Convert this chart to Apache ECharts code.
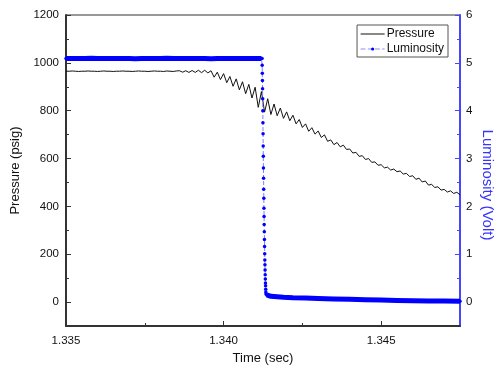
<!DOCTYPE html>
<html><head><meta charset="utf-8">
<script src="https://cdn.jsdelivr.net/npm/echarts@6/dist/echarts.min.js"></script>
<style>html,body{margin:0;padding:0;background:#fff}#c{width:496px;height:371px}</style>
</head><body><div id="c"></div>
<script>
// ---- Data ----
// Pressure sampled every 0.1 ms starting at 1.3350 s
const pressureStart = 1.335;
const pressureStep = 0.0001;
const pressure = [
 965,965,966,965,964,965,965,966,965,965,964,965,966,965,965,964,965,965,966,965,
 965,964,965,966,965,965,964,965,966,965,965,964,966,965,964,966,
 967,961,967,960,968,960,969,959,969,958,
 967,940,961,930,955,917,943,902,933,887,921,871,910,853,898,814,880,794,850,784,
 828,779,811,768,795,758,781,745,763,730,745,714,729,702,715,688,699,672,678,658,
 667,649,656,638,640,623,626,609,612,596,600,584,586,572,574,561,564,552,556,545,
 548,535,538,525,528,513,518,502,506,489,492,479,482,468,471,460,465,454,459,448
];
// Luminosity before the drop, every 0.2 ms from 1.3350 s
const lumPreStart = 1.335;
const lumPreStep = 0.0002;
const lumPre = [5.09,5.09,5.09,5.09,5.095,5.09,5.09,5.09,5.09,5.09,5.09,5.085,5.09,5.09,5.09,5.09,
                5.095,5.09,5.09,5.09,5.09,5.09,5.09,5.085,5.09,5.09,5.09,5.09,5.09,5.09,5.09,5.09];
// Luminosity drop, every 4 µs from 1.34122 s
const lumDropStart = 1.34122;
const lumDropStep = 0.000004;
const lumDrop = [5.09,4.95,4.78,4.63,4.46,4.25,4.00,3.75,3.52,3.26,3.05,2.80,2.59,2.36,2.17,1.96,
                 1.79,1.62,1.47,1.31,1.16,1.01,0.88,0.78,0.67,0.57,0.48,0.40,0.34,0.27,0.21,0.17];
// Luminosity tail after the drop
const lumPostTime = [1.34137,1.34142,1.3415,1.3417,1.3419,1.3422,1.3426,1.3430,1.3435,1.3440,
                     1.3445,1.3450,1.3455,1.3460,1.3465,1.3470,1.3475];
const lumPost = [0.15,0.13,0.12,0.11,0.10,0.09,0.085,0.075,0.065,0.057,0.05,0.042,0.035,0.03,0.025,0.02,0.015];

// Axis ticks
const xTicks = [1.335, 1.340, 1.345];
const xMinorTicks = [1.3375, 1.3425];
const pTicks = [0,200,400,600,800,1000,1200];
const pMinorTicks = [100,300,500,700,900,1100];
const lTicks = [0,1,2,3,4,5,6];
const lMinorTicks = [0.5,1.5,2.5,3.5,4.5,5.5];

// ---- Build series data ----
const pressureData = pressure.map((v,i)=>[+(pressureStart+i*pressureStep).toFixed(5), v]);
const preData = lumPre.map((v,i)=>[+(lumPreStart+i*lumPreStep).toFixed(5), v]);
const dropData = lumDrop.map((v,i)=>[+(lumDropStart+i*lumDropStep).toFixed(6), v]);
const postData = lumPost.map((v,i)=>[lumPostTime[i], v]);
const lumAll = preData.concat(dropData, postData);

const FONT = 'Liberation Sans, Arial, sans-serif';
const BLUE = '#0000ff';
const AXIS = '#333333';
const RBLUE = '#4646ff';

const chart = echarts.init(document.getElementById('c'), null, {renderer:'canvas'});
chart.setOption({
  animation:false,
  backgroundColor:'#ffffff',
  textStyle:{fontFamily:FONT},
  grid:{left:66, right:36, top:15, bottom:45, outerBoundsMode:'none', containLabel:false,
        show:true, borderColor:AXIS, borderWidth:1, backgroundColor:'transparent'},
  legend:{
    data:[
      {name:'Pressure', icon:'path://M0,0M0,1.5H24V2.5H0ZM24,4'},
      {name:'Luminosity', itemStyle:{color:BLUE}, lineStyle:{type:'dashed', color:'#8c8cff', width:1.2}}
    ],
    orient:'vertical', right:48, top:25,
    borderColor:'#555', borderWidth:1, padding:[3,4,2,3], itemGap:3,
    itemWidth:24, itemHeight:4,
    textStyle:{fontFamily:FONT, fontSize:12, color:'#111', padding:[0,0,0,-3]}
  },
  xAxis:[{
    type:'value', min:1.335, max:1.3475,
    name:'Time (sec)', nameLocation:'middle', nameGap:24,
    nameTextStyle:{fontFamily:FONT, fontSize:13, color:'#111'},
    axisLine:{show:true, onZero:false, lineStyle:{color:AXIS, width:2}},
    axisTick:{show:true, inside:true, length:5, customValues:xTicks, lineStyle:{color:AXIS}},
    axisLabel:{customValues:xTicks, formatter:v=>v.toFixed(3), fontSize:11.5, color:'#111', margin:9},
    splitLine:{show:false}
  },{
    type:'value', min:1.335, max:1.3475, position:'bottom',
    axisLine:{show:false, onZero:false},
    axisTick:{show:true, inside:true, length:3, customValues:xMinorTicks, lineStyle:{color:AXIS}},
    axisLabel:{show:false}, splitLine:{show:false}
  }],
  yAxis:[{
    type:'value', min:-100, max:1200, position:'left',
    name:'Pressure (psig)', nameLocation:'middle', nameGap:44,
    nameTextStyle:{fontFamily:FONT, fontSize:13, color:'#111'},
    axisLine:{show:true, onZero:false, lineStyle:{color:AXIS, width:2}},
    axisTick:{show:true, inside:true, length:5, customValues:pTicks, lineStyle:{color:AXIS}},
    axisLabel:{customValues:pTicks, formatter:v=>String(v), fontSize:11.5, color:'#111', margin:7},
    splitLine:{show:false}
  },{
    type:'value', min:-0.5, max:6, position:'right',
    name:'Luminosity (Volt)', nameLocation:'middle', nameGap:20, nameRotate:-90, nameMoveOverlap:false,
    nameTextStyle:{fontFamily:FONT, fontSize:15, color:'#3535ff', padding:[0,0,0,29]},
    axisLine:{show:true, onZero:false, lineStyle:{color:RBLUE, width:2}},
    axisTick:{show:true, inside:true, length:5, customValues:lTicks, lineStyle:{color:RBLUE}},
    axisLabel:{customValues:lTicks, formatter:v=>String(v), fontSize:11.5, color:'#111', margin:6},
    splitLine:{show:false}
  },{
    type:'value', min:-100, max:1200, position:'left',
    axisLine:{show:false, onZero:false},
    axisTick:{show:true, inside:true, length:3, customValues:pMinorTicks, lineStyle:{color:AXIS}},
    axisLabel:{show:false}, splitLine:{show:false}
  },{
    type:'value', min:-0.5, max:6, position:'right',
    axisLine:{show:false, onZero:false},
    axisTick:{show:true, inside:true, length:3, customValues:lMinorTicks, lineStyle:{color:RBLUE}},
    axisLabel:{show:false}, splitLine:{show:false}
  }],
  series:[{
    name:'Pressure', type:'line', xAxisIndex:0, yAxisIndex:0,
    data:pressureData, symbol:'none', showSymbol:false,
    lineStyle:{color:'#111', width:1}, itemStyle:{color:'#111'}, z:2
  },{
    name:'Luminosity', type:'line', xAxisIndex:0, yAxisIndex:1,
    data:lumAll, symbol:'circle', symbolSize:3.5, showSymbol:true, showAllSymbol:true,
    itemStyle:{color:BLUE}, lineStyle:{color:'#8080ff', width:1, type:'dashed'}, z:4
  },{
    type:'line', xAxisIndex:0, yAxisIndex:1, data:preData, symbol:'none',
    lineStyle:{color:BLUE, width:5}, z:5, silent:true
  },{
    type:'line', xAxisIndex:0, yAxisIndex:1, data:postData, symbol:'none',
    lineStyle:{color:BLUE, width:5, join:'round'}, z:5, silent:true
  }]
});
</script>
</body></html>
